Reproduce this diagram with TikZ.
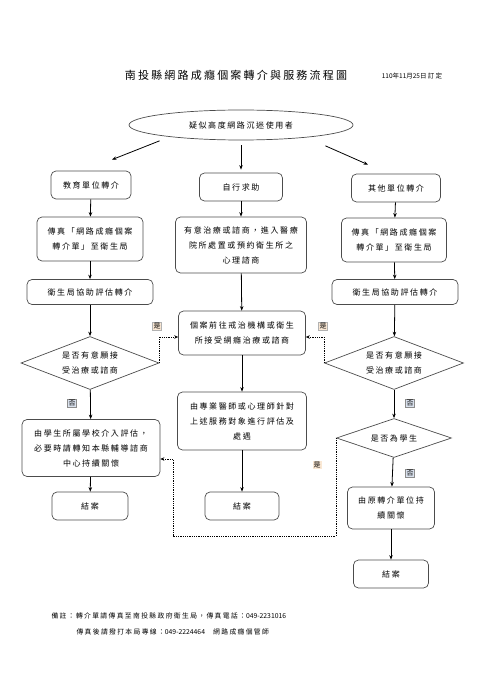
\documentclass[tikz,border=0pt]{standalone}
\usepackage{fontspec}
\setmainfont{Noto Sans CJK TC}[LetterSpace=20]
\usetikzlibrary{shapes.geometric,arrows.meta}
\definecolor{yesfill}{RGB}{250,232,212}
\definecolor{nofill}{RGB}{218,226,238}
\newcommand{\tight}[1]{{\addfontfeature{LetterSpace=0}#1}}

\begin{document}
\begin{tikzpicture}[x=1pt,y=-1pt,font=\fontsize{8}{15}\selectfont,
			box/.style={draw=black!70,rounded corners=5pt,line width=0.7pt,align=center,inner sep=1pt},
			dec/.style={diamond,draw=black!70,line width=0.7pt,align=center,inner sep=0pt,aspect=2.6},
			arr/.style={-{Stealth[length=4.5pt,width=3.5pt]},line width=0.8pt},
			dotarr/.style={-{Stealth[length=4pt,width=3.5pt]},line width=0.8pt,densely dotted},
			yeslab/.style={fill=yesfill,draw=black!30,line width=0.4pt,inner sep=1pt,font=\fontsize{7}{7}\selectfont},
			nolab/.style={fill=nofill,draw=black!45,line width=0.4pt,inner sep=1pt,font=\fontsize{7}{7}\selectfont}]
		\useasboundingbox (0,0) rectangle (495,700);
		% title
		\node (title) at (236,75) {\fontsize{11}{11}\selectfont 南投縣網路成癮個案轉介與服務流程圖};
		\node (date) at (412,76) {\fontsize{6.5}{6.5}\selectfont \tight{110}年\tight{11}月\tight{25}日訂定};
		\node[ellipse,draw=black!70,line width=0.7pt,minimum width=224pt,minimum height=30pt] (user) at (241,125) {疑似高度網路沉迷使用者};
		% left column
		\node[box,minimum width=80pt,minimum height=28pt] (edu) at (91,185) {教育單位轉介};
		\node[box,minimum width=106pt,minimum height=44pt] (lfax) at (90,239) {傳真「網路成癮個案\\轉介單」至衛生局};
		\node[box,minimum width=126pt,minimum height=25pt] (lassess) at (90,292) {衛生局協助評估轉介};
		\node[dec,minimum width=138pt,minimum height=53pt] (ldec) at (90,363) {是否有意願接\\受治療或諮商};
		\node[box,minimum width=138pt,minimum height=57pt] (school) at (91,448) {由學生所屬學校介入評估，\\必要時請轉知本縣輔導諮商\\中心持續關懷};
		\node[box,minimum width=76pt,minimum height=28pt] (lend) at (90,506) {結案};
		% middle column
		\node[box,minimum width=83pt,minimum height=28pt] (self) at (241,187) {自行求助};
		\node[box,minimum width=131pt,minimum height=56pt] (treat) at (241,245) {有意治療或諮商，進入醫療\\院所處置或預約衛生所之\\心理諮商};
		\node[box,minimum width=127pt,minimum height=44pt] (go) at (242,333) {個案前往戒治機構或衛生\\所接受網癮治療或諮商};
		\node[box,minimum width=129pt,minimum height=58pt] (doc) at (242,421) {由專業醫師或心理師針對\\上述服務對象進行評估及\\處遇};
		\node[box,minimum width=74pt,minimum height=28pt] (mend) at (242,506) {結案};
		% right column
		\node[box,minimum width=89pt,minimum height=28pt] (other) at (396,188) {其他單位轉介};
		\node[box,minimum width=105pt,minimum height=44pt] (rfax) at (394,240) {傳真「網路成癮個案\\轉介單」至衛生局};
		\node[box,minimum width=126pt,minimum height=25pt] (rassess) at (395,292) {衛生局協助評估轉介};
		\node[dec,minimum width=139pt,minimum height=53pt] (rdec) at (394,363) {是否有意願接\\受治療或諮商};
		\node[dec,minimum width=115pt,minimum height=39pt] (student) at (394,438) {是否為學生};
		\node[box,minimum width=87pt,minimum height=42pt] (care) at (391,508) {由原轉介單位持\\續關懷};
		\node[box,minimum width=75pt,minimum height=28pt] (rend) at (391,574) {結案};
		% arrows
		\draw[arr] ([shift={(-2,5)}]user.south west) -- ([shift={(21,-11)}]edu.north);
		\draw[arr,shorten <=5pt,shorten >=3pt] (user) -- (self);
		\draw[arr] ([shift={(5,10)}]user.south east) -- ([shift={(-28,-9)}]other.north);
		\draw[arr] (edu) -- (lfax);
		\draw[arr] (lfax) -- (lassess);
		\draw[arr] (lassess) -- (ldec);
		\draw[arr] (ldec) -- (school);
		\draw[arr] (school) -- (lend);
		\draw[arr] (self) -- (treat);
		\draw[arr] (treat) -- (go);
		\draw[arr] (go) -- (doc);
		\draw[arr] (doc) -- (mend);
		\draw[arr] (other) -- (rfax);
		\draw[arr] (rfax) -- (rassess);
		\draw[arr] (rassess) -- (rdec);
		\draw[arr] (rdec) -- (student);
		\draw[arr] (student) -- (care);
		\draw[arr] (care) -- (rend);
		% dotted links
		\coordinate (turn) at (173,536);
		\draw[dotarr] (ldec.east) |- ([shift={(0,4)}]go.west);
		\draw[dotarr] (rdec.west) |- ([shift={(0,4)}]go.east);
		\draw[dotarr] (student.west) |- (turn) |- ([shift={(0,11)}]school.east);
		% labels
		\node[yeslab] (yes1) at (157,326) {是};
		\node[yeslab] (yes2) at (323,326) {是};
		\node[yeslab,draw=none] (yes3) at (317,465) {是};
		\node[nolab] (no1) at (72,403) {否};
		\node[nolab] (no2) at (410,403) {否};
		\node[nolab] (no3) at (410,473) {否};
		% note
		\node[anchor=west,font=\fontsize{6.8}{6.8}\selectfont] (note1) at (48,616) {備註：轉介單請傳真至南投縣政府衛生局，傳真電話：\tight{049-2231016}};
		\node[anchor=west,font=\fontsize{6.8}{6.8}\selectfont] (note2) at (73,632) {傳真後請撥打本局專線：\tight{049-2224464}　網路成癮個管師};
	\end{tikzpicture}
\end{document}
